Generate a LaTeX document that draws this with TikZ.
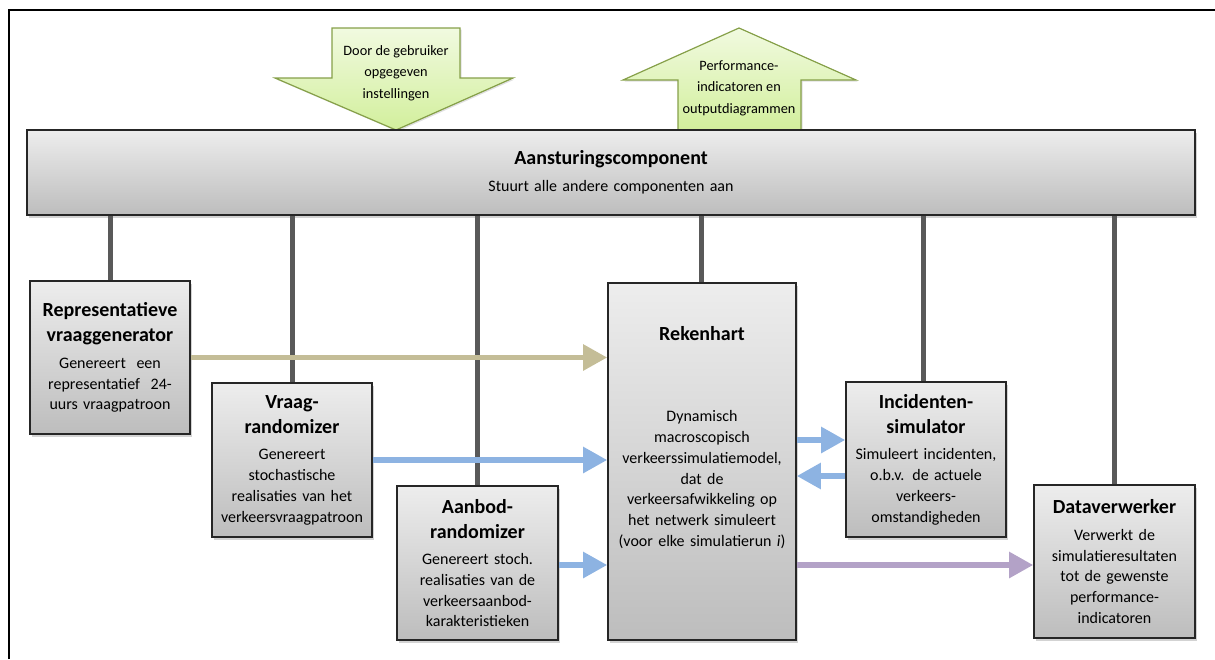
\documentclass[tikz,border=0pt]{standalone}
\usepackage{fontspec}
\setmainfont{Carlito}
\usetikzlibrary{arrows.meta,shadows,calc}
\definecolor{tanc}{HTML}{C4BD97}
\definecolor{bluec}{HTML}{8DB3E2}
\definecolor{purplec}{HTML}{B3A2C7}
\definecolor{greentop}{HTML}{F1FAE0}
\definecolor{greenbot}{HTML}{D2EF9C}
\definecolor{greenline}{HTML}{86A049}
\definecolor{boxtop}{HTML}{EDEDED}
\definecolor{boxbot}{HTML}{BDBDBD}
\definecolor{linkc}{HTML}{595959}
\newcommand{\ttl}[1]{{\fontsize{20}{25}\selectfont\bfseries #1\par}\vspace{6pt}}
\tikzset{
  comp/.style={draw=black!85, line width=1.6pt, top color=boxtop, bottom color=boxbot,
    drop shadow={shadow xshift=2pt, shadow yshift=-2.5pt, opacity=0.35},
    align=center, inner xsep=0pt, inner ysep=0pt,
    font=\fontsize{16}{20.7}\selectfont},
  link/.style={draw=linkc, line width=5pt},
  flow/.style={line width=5.5pt, -{Triangle[length=24pt,width=25pt]}},
  bigarrow/.style={draw=greenline, line width=1.2pt, top color=greentop, bottom color=greenbot,
    drop shadow={shadow xshift=1.5pt, shadow yshift=-1.5pt, opacity=0.25}},
  arrowtext/.style={align=center, font=\fontsize{14.3}{21.5}\selectfont, inner sep=0pt}
}
\begin{document}
\begin{tikzpicture}[x=1pt,y=-1pt]
\useasboundingbox (0,0) rectangle (1215,659);
% frame
\draw[line width=2pt] (9,659) -- (9,10) -- (1215,10);

% green arrows
\path[bigarrow] (332,28) -- (460,28) -- (460,78) -- (513,78) -- (396,130) -- (275,78) -- (332,78) -- cycle;
\node[arrowtext] (intext) at (396,73) {Door de gebruiker\\opgegeven\\instellingen};
\path[bigarrow] (739,28) -- (856,80) -- (801,80) -- (801,130) -- (678,130) -- (678,80) -- (623,80) -- cycle;
\node[arrowtext] (outtext) at (739,88) {Performance-\\indicatoren en\\outputdiagrammen};

% control component
\node[comp, minimum width=1168pt, minimum height=85pt, text width=1160pt] (aan) at (611,172.5)
  {\ttl{Aansturingscomponent}Stuurt alle andere componenten aan};

% components
\node[comp, minimum width=160pt, minimum height=153pt, text width=160pt] (rep) at (110,357.5)
  {\ttl{Representatieve\\vraaggenerator}Genereert \ een\\representatief \ 24-\\uurs vraagpatroon};
\node[comp, minimum width=160pt, minimum height=154pt, text width=160pt] (vraag) at (292,460)
  {\ttl{Vraag-\\randomizer}Genereert\\stochastische\\realisaties van het\\verkeersvraagpatroon};
\node[comp, minimum width=161pt, minimum height=154pt, text width=161pt] (aanbod) at (477.5,563)
  {\ttl{Aanbod-\\randomizer}Genereert stoch.\\realisaties van de\\verkeersaanbod-\\karakteristieken};
\node[comp, minimum width=188pt, minimum height=357pt, text width=188pt] (rek) at (702,461.5) {};
\node[align=center, inner sep=0pt, anchor=north, text width=188pt, font=\fontsize{16}{20.7}\selectfont] (rektext) at (702,326)
  {{\fontsize{20}{25}\selectfont\bfseries Rekenhart\par}\vspace{61pt}Dynamisch\\macroscopisch\\verkeerssimulatiemodel,\\dat de\\verkeersafwikkeling op\\het netwerk simuleert\\(voor elke simulatierun \textit{i})};
\node[comp, minimum width=160pt, minimum height=155pt, text width=160pt] (inc) at (926,459.5)
  {\ttl{Incidenten-\\simulator}Simuleert incidenten,\\o.b.v. de actuele\\verkeers-\\omstandigheden};
\node[comp, minimum width=161pt, minimum height=153pt, text width=161pt] (data) at (1114.5,561.5)
  {\ttl{Dataverwerker}Verwerkt de\\simulatieresultaten\\tot de gewenste\\performance-\\indicatoren};

% links from control component
\draw[link] (rep.north) -- (rep.north |- aan.south);
\draw[link] (vraag.north) -- (vraag.north |- aan.south);
\draw[link] (aanbod.north) -- (aanbod.north |- aan.south);
\draw[link] ([xshift=-1pt]rek.north) -- ([xshift=-1pt]rek.north |- aan.south);
\draw[link] ([xshift=-3pt]inc.north) -- ([xshift=-3pt]inc.north |- aan.south);
\draw[link] (data.north) -- (data.north |- aan.south);

% flows
\draw[flow, tanc] (rep.east) -- (rep.east -| rek.west);
\draw[flow, bluec] (vraag.east) -- (vraag.east -| rek.west);
\draw[flow, bluec] ([yshift=-2pt]aanbod.east) -- ([yshift=-2pt]aanbod.east -| rek.west);
\draw[flow, bluec] ([yshift=19.5pt]inc.west -| rek.east) -- ([yshift=19.5pt]inc.west);
\draw[flow, bluec] ([yshift=-16.5pt]inc.west) -- ([yshift=-16.5pt]inc.west -| rek.east);
\draw[flow, purplec] ([yshift=-3.5pt]data.west -| rek.east) -- ([yshift=-3.5pt]data.west);
\end{tikzpicture}
\end{document}
